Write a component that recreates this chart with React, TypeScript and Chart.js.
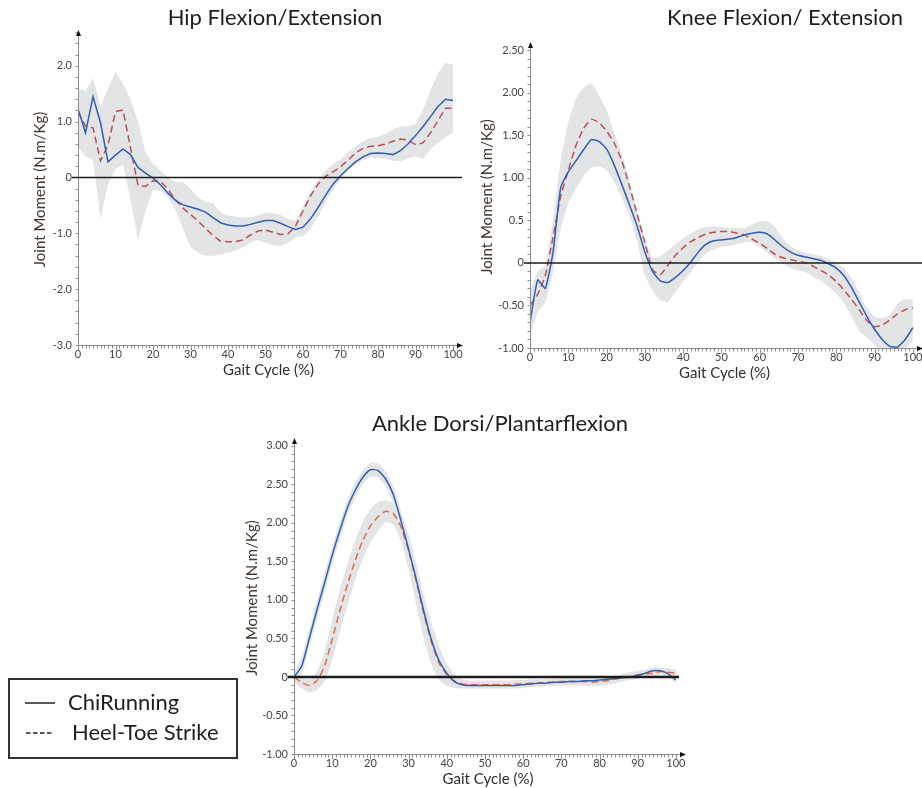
import React, { useEffect, useRef } from 'react';
import { Chart, registerables } from 'chart.js';

Chart.register(...registerables);

// ---------- data ----------
const gaitX = [0, 2, 4, 6, 8, 10, 12, 14, 16, 18, 20, 22, 24, 26, 28, 30, 32, 34, 36, 38, 40, 42, 44, 46, 48, 50, 52, 54, 56, 58, 60, 62, 64, 66, 68, 70, 72, 74, 76, 78, 80, 82, 84, 86, 88, 90, 92, 94, 96, 98, 100];
const xTicks = [0, 10, 20, 30, 40, 50, 60, 70, 80, 90, 100];
const legendLabels = ['ChiRunning', 'Heel-Toe Strike'];

const hipTitle = 'Hip Flexion/Extension';
const hipYTicks = [-3, -2, -1, 0, 1, 2];
const hipYLabels = ['-3.0', '-2.0', '-1.0', '0', '1.0', '2.0'];
const hipChi = [1.23, 0.80, 1.45, 0.98, 0.28, 0.40, 0.51, 0.41, 0.18, 0.08, -0.01, -0.13, -0.28, -0.41, -0.49, -0.53, -0.57, -0.62, -0.72, -0.81, -0.85, -0.87, -0.87, -0.84, -0.80, -0.77, -0.77, -0.82, -0.88, -0.93, -0.89, -0.74, -0.54, -0.32, -0.12, 0.03, 0.16, 0.28, 0.37, 0.43, 0.44, 0.43, 0.41, 0.48, 0.60, 0.75, 0.91, 1.09, 1.27, 1.40, 1.38];
const hipHts = [1.18, 0.92, 0.89, 0.30, 0.58, 1.18, 1.21, 0.53, -0.14, -0.16, -0.06, -0.07, -0.21, -0.40, -0.55, -0.66, -0.78, -0.91, -1.04, -1.14, -1.15, -1.15, -1.12, -1.03, -0.96, -0.94, -0.98, -1.02, -1.01, -0.87, -0.60, -0.33, -0.12, 0.02, 0.10, 0.19, 0.31, 0.44, 0.52, 0.56, 0.57, 0.60, 0.65, 0.69, 0.67, 0.59, 0.62, 0.80, 1.02, 1.24, 1.24];
const hipUpper = [1.60, 1.55, 1.78, 1.28, 1.60, 1.90, 1.68, 1.40, 1.00, 0.45, 0.25, 0.12, 0.00, -0.08, -0.08, -0.20, -0.35, -0.44, -0.46, -0.63, -0.68, -0.70, -0.71, -0.71, -0.68, -0.63, -0.64, -0.67, -0.75, -0.78, -0.52, -0.26, -0.04, 0.12, 0.24, 0.32, 0.45, 0.56, 0.65, 0.71, 0.73, 0.78, 0.86, 0.92, 0.92, 0.96, 1.22, 1.55, 1.87, 2.05, 2.02];
const hipLower = [0.56, 0.38, 0.32, -0.75, -0.12, 0.15, 0.24, -0.40, -1.12, -0.60, -0.22, -0.24, -0.35, -0.58, -0.92, -1.24, -1.35, -1.40, -1.40, -1.38, -1.35, -1.31, -1.25, -1.16, -1.12, -1.17, -1.21, -1.23, -1.17, -1.08, -1.05, -0.92, -0.70, -0.45, -0.22, -0.04, 0.12, 0.24, 0.32, 0.36, 0.35, 0.33, 0.30, 0.29, 0.34, 0.38, 0.33, 0.50, 0.62, 0.72, 0.80];

const kneeTitle = 'Knee Flexion/ Extension';
const kneeYTicks = [-1, -0.5, 0, 0.5, 1, 1.5, 2, 2.5];
const kneeYLabels = ['-1.00', '-0.50', '0', '0.5', '1.00', '1.50', '2.00', '2.50'];
const kneeChi = [-0.70, -0.20, -0.30, 0.12, 0.88, 1.07, 1.20, 1.33, 1.45, 1.43, 1.34, 1.15, 0.92, 0.68, 0.43, 0.13, -0.10, -0.21, -0.23, -0.17, -0.09, 0.01, 0.13, 0.22, 0.26, 0.27, 0.28, 0.30, 0.33, 0.35, 0.36, 0.34, 0.27, 0.19, 0.13, 0.09, 0.07, 0.05, 0.03, -0.01, -0.06, -0.15, -0.29, -0.46, -0.63, -0.78, -0.90, -0.98, -0.99, -0.90, -0.76];
const kneeHts = [-0.50, -0.37, -0.15, 0.30, 0.78, 1.09, 1.38, 1.58, 1.69, 1.65, 1.55, 1.41, 1.20, 0.90, 0.57, 0.24, -0.08, -0.14, -0.03, 0.09, 0.18, 0.25, 0.30, 0.34, 0.36, 0.37, 0.37, 0.35, 0.33, 0.28, 0.23, 0.17, 0.10, 0.06, 0.04, 0.02, 0.00, -0.04, -0.09, -0.14, -0.22, -0.32, -0.43, -0.55, -0.68, -0.75, -0.73, -0.67, -0.60, -0.55, -0.53];
const kneeUpper = [-0.35, -0.10, -0.02, 0.50, 1.20, 1.65, 1.93, 2.06, 2.11, 1.97, 1.80, 1.53, 1.28, 0.95, 0.62, 0.28, 0.06, 0.08, 0.15, 0.22, 0.29, 0.35, 0.40, 0.42, 0.43, 0.42, 0.41, 0.41, 0.41, 0.45, 0.49, 0.49, 0.42, 0.29, 0.20, 0.15, 0.12, 0.10, 0.08, 0.05, 0.00, -0.06, -0.18, -0.35, -0.53, -0.63, -0.65, -0.61, -0.48, -0.43, -0.43];
const kneeLower = [-0.85, -0.58, -0.46, -0.10, 0.40, 0.70, 0.88, 1.02, 1.12, 1.14, 1.09, 0.95, 0.77, 0.55, 0.25, -0.14, -0.33, -0.44, -0.46, -0.34, -0.22, -0.11, 0.01, 0.11, 0.16, 0.19, 0.20, 0.22, 0.24, 0.24, 0.19, 0.12, 0.05, -0.01, -0.06, -0.09, -0.11, -0.16, -0.21, -0.28, -0.36, -0.47, -0.63, -0.80, -0.88, -0.96, -1.08, -1.12, -1.10, -1.00, -0.92];

const ankleTitle = 'Ankle Dorsi/Plantarflexion';
const ankleYTicks = [-1, -0.5, 0, 0.5, 1, 1.5, 2, 2.5, 3];
const ankleYLabels = ['-1.00', '-0.50', '0', '0.50', '1.00', '1.50', '2.00', '2.50', '3.00'];
const ankleChi = [0.00, 0.14, 0.50, 0.87, 1.22, 1.58, 1.90, 2.20, 2.42, 2.59, 2.69, 2.68, 2.57, 2.37, 2.03, 1.66, 1.27, 0.85, 0.48, 0.21, 0.05, -0.06, -0.10, -0.11, -0.11, -0.11, -0.11, -0.11, -0.11, -0.11, -0.10, -0.09, -0.08, -0.08, -0.07, -0.07, -0.06, -0.06, -0.05, -0.05, -0.04, -0.03, -0.02, -0.01, 0.00, 0.02, 0.05, 0.08, 0.08, 0.04, -0.04];
const ankleHts = [0.00, -0.07, -0.11, -0.05, 0.14, 0.49, 0.86, 1.20, 1.51, 1.77, 1.96, 2.08, 2.15, 2.12, 1.95, 1.64, 1.24, 0.82, 0.45, 0.18, 0.03, -0.05, -0.09, -0.10, -0.10, -0.10, -0.10, -0.10, -0.10, -0.09, -0.09, -0.08, -0.08, -0.07, -0.07, -0.06, -0.06, -0.06, -0.06, -0.07, -0.06, -0.05, -0.03, -0.01, 0.01, 0.03, 0.04, 0.05, 0.07, 0.06, 0.05];
const ankleChiUpper = [0.06, 0.26, 0.62, 0.99, 1.34, 1.69, 2.01, 2.30, 2.52, 2.68, 2.78, 2.77, 2.67, 2.48, 2.16, 1.82, 1.43, 1.02, 0.65, 0.35, 0.15, 0.01, -0.05, -0.07, -0.07, -0.07, -0.07, -0.07, -0.07, -0.07, -0.06, -0.05, -0.05, -0.05, -0.04, -0.04, -0.03, -0.03, -0.02, -0.02, -0.01, 0.00, 0.01, 0.02, 0.04, 0.06, 0.09, 0.12, 0.12, 0.08, 0.00];
const ankleChiLower = [-0.06, 0.03, 0.38, 0.75, 1.10, 1.46, 1.79, 2.10, 2.32, 2.50, 2.60, 2.59, 2.47, 2.26, 1.90, 1.50, 1.10, 0.68, 0.31, 0.08, -0.05, -0.12, -0.14, -0.15, -0.15, -0.15, -0.15, -0.15, -0.15, -0.15, -0.14, -0.13, -0.12, -0.12, -0.11, -0.11, -0.10, -0.10, -0.09, -0.09, -0.08, -0.07, -0.06, -0.05, -0.04, -0.02, 0.01, 0.04, 0.04, 0.00, -0.08];
const ankleHtsUpper = [0.05, 0.01, -0.03, 0.07, 0.33, 0.74, 1.13, 1.47, 1.77, 2.01, 2.18, 2.27, 2.29, 2.26, 2.12, 1.85, 1.48, 1.06, 0.70, 0.40, 0.17, 0.04, -0.03, -0.05, -0.05, -0.05, -0.05, -0.05, -0.05, -0.04, -0.04, -0.03, -0.03, -0.02, -0.02, -0.01, -0.01, -0.01, -0.01, -0.02, -0.01, 0.00, 0.02, 0.04, 0.06, 0.08, 0.09, 0.10, 0.12, 0.11, 0.10];
const ankleHtsLower = [-0.06, -0.15, -0.20, -0.17, -0.06, 0.22, 0.59, 0.93, 1.25, 1.53, 1.74, 1.89, 2.01, 1.98, 1.76, 1.40, 0.94, 0.50, 0.16, -0.04, -0.11, -0.14, -0.15, -0.15, -0.15, -0.15, -0.15, -0.15, -0.15, -0.14, -0.14, -0.13, -0.13, -0.12, -0.12, -0.11, -0.11, -0.11, -0.11, -0.12, -0.11, -0.10, -0.08, -0.06, -0.04, -0.02, -0.01, 0.00, 0.02, 0.01, 0.00];

// ---------- styling ----------
const FONT = 'Lato, "Open Sans", sans-serif';
const BLUE = '#2f5fb3';
const RED = '#c0504d';
const ORANGE = '#ea6a43';
const BAND = '#e3e4e6';

const pts = (ys: number[]) => gaitX.map((x, i) => ({ x, y: ys[i] }));

const lineDs = (label: string, ys: number[], color: string, dashed: boolean, tension: number) => ({
  label,
  data: pts(ys),
  borderColor: color,
  borderWidth: 1.5,
  borderDash: dashed ? [7, 4] : [],
  pointRadius: 0,
  fill: false,
  tension,
});

const bandDs = (ys: number[], fillNext: boolean, tension: number) => ({
  label: '',
  data: pts(ys),
  borderWidth: 0,
  borderColor: 'rgba(0,0,0,0)',
  backgroundColor: BAND,
  pointRadius: 0,
  fill: fillNext ? '+1' : false,
  tension,
});

const decorPlugin = {
  id: 'decor',
  afterDraw(chart: any, _args: any, o: any) {
    const { ctx, chartArea: ca } = chart;
    const xs = chart.scales.x;
    const ys = chart.scales.y;
    const ax = Math.round(ca.left) + 0.5;
    const ay = Math.round(ca.bottom) + 0.5;
    ctx.save();
    ctx.strokeStyle = '#8e8e8e';
    ctx.lineWidth = 1;
    ctx.beginPath();
    ctx.moveTo(ax, ca.top);
    ctx.lineTo(ax, ay);
    ctx.lineTo(ca.right, ay);
    for (let i = 0; i <= 101; i++) {
      const px = Math.round(xs.getPixelForValue(i)) + 0.5;
      ctx.moveTo(px, ay);
      ctx.lineTo(px, ay + (i % 10 === 0 ? 5 : 3));
    }
    const n = Math.round((ys.max - ys.min) / o.yMinor);
    for (let i = 0; i <= n; i++) {
      const py = Math.round(ys.getPixelForValue(ys.min + i * o.yMinor)) + 0.5;
      ctx.moveTo(ax, py);
      ctx.lineTo(ax - 3, py);
    }
    ctx.stroke();

    const z = ys.getPixelForValue(0);
    ctx.strokeStyle = '#1c1c1c';
    ctx.lineWidth = o.zeroWidth;
    ctx.beginPath();
    ctx.moveTo(ca.left - 6, z);
    ctx.lineTo(ca.right + o.zeroExt, z);
    ctx.stroke();

    ctx.fillStyle = '#111';
    ctx.beginPath();
    ctx.moveTo(ax, ca.top - 4);
    ctx.lineTo(ax - 2.5, ca.top + 2);
    ctx.lineTo(ax + 2.5, ca.top + 2);
    ctx.closePath();
    ctx.fill();
    ctx.beginPath();
    ctx.moveTo(ca.right + 4, ay);
    ctx.lineTo(ca.right - 2, ay - 2.5);
    ctx.lineTo(ca.right - 2, ay + 2.5);
    ctx.closePath();
    ctx.fill();

    ctx.font = `22px ${FONT}`;
    ctx.fillStyle = '#1e1e1e';
    ctx.textAlign = 'center';
    ctx.textBaseline = 'middle';
    ctx.fillText(o.title, o.titleX, o.titleY);

    if (o.legend) {
      const L = o.legend;
      ctx.strokeStyle = '#333';
      ctx.lineWidth = 2;
      ctx.strokeRect(L.x, L.y, L.w, L.h);
      ctx.strokeStyle = '#222';
      ctx.lineWidth = 1.5;
      ctx.beginPath();
      ctx.moveTo(L.x + 16, L.y + 24);
      ctx.lineTo(L.x + 46, L.y + 24);
      ctx.stroke();
      ctx.setLineDash([4.5, 2.5]);
      ctx.beginPath();
      ctx.moveTo(L.x + 17, L.y + 54);
      ctx.lineTo(L.x + 45, L.y + 54);
      ctx.stroke();
      ctx.setLineDash([]);
      ctx.font = `22px ${FONT}`;
      ctx.fillStyle = '#1e1e1e';
      ctx.textAlign = 'left';
      ctx.textBaseline = 'middle';
      ctx.fillText(legendLabels[0], L.x + 59, L.y + 24);
      ctx.fillText(legendLabels[1], L.x + 63, L.y + 54);
    }
    ctx.restore();
  },
};

type Panel = {
  left: number; top: number; w: number; h: number;
  pad: { left: number; right: number; top: number; bottom: number };
  yWidth: number; xHeight: number; yTitlePad: number; xTitlePad: number;
  yMin: number; yMax: number; yTicks: number[]; yLabels: string[]; yMinor: number;
  datasets: any[]; decor: any;
};

const XMAX = 101.6;

const panels: Panel[] = [
  {
    left: 0, top: 0, w: 470, h: 385,
    pad: { left: 0, right: 11, top: 34, bottom: 0 },
    yWidth: 78, xHeight: 40, yTitlePad: 31, xTitlePad: 6,
    yMin: -3, yMax: 2.57, yTicks: hipYTicks, yLabels: hipYLabels, yMinor: 0.2,
    datasets: [
      lineDs(legendLabels[0], hipChi, BLUE, false, 0),
      lineDs(legendLabels[1], hipHts, RED, true, 0),
      bandDs(hipUpper, true, 0),
      bandDs(hipLower, false, 0),
    ],
    decor: { title: hipTitle, titleX: 275, titleY: 18, yMinor: 0.2, zeroWidth: 1.6, zeroExt: 3 },
  },
  {
    left: 460, top: 0, w: 462, h: 388,
    pad: { left: 0, right: 3, top: 46, bottom: 0 },
    yWidth: 70, xHeight: 40, yTitlePad: 18, xTitlePad: 6,
    yMin: -1, yMax: 2.55, yTicks: kneeYTicks, yLabels: kneeYLabels, yMinor: 0.1,
    datasets: [
      lineDs(legendLabels[0], kneeChi, BLUE, false, 0.15),
      lineDs(legendLabels[1], kneeHts, RED, true, 0.15),
      bandDs(kneeUpper, true, 0.15),
      bandDs(kneeLower, false, 0.15),
    ],
    decor: { title: kneeTitle, titleX: 325, titleY: 18, yMinor: 0.1, zeroWidth: 1.6, zeroExt: 3 },
  },
  {
    left: 0, top: 395, w: 700, h: 393,
    pad: { left: 0, right: 18, top: 47, bottom: 0 },
    yWidth: 294, xHeight: 34, yTitlePad: 243, xTitlePad: 0,
    yMin: -1, yMax: 3.05, yTicks: ankleYTicks, yLabels: ankleYLabels, yMinor: 0.1,
    datasets: [
      lineDs(legendLabels[0], ankleChi, BLUE, false, 0.2),
      lineDs(legendLabels[1], ankleHts, ORANGE, true, 0.2),
      bandDs(ankleChiUpper, true, 0.2),
      bandDs(ankleChiLower, false, 0.2),
      bandDs(ankleHtsUpper, true, 0.2),
      bandDs(ankleHtsLower, false, 0.2),
    ],
    decor: { title: ankleTitle, titleX: 500, titleY: 29, yMinor: 0.1, zeroWidth: 2.6, zeroExt: -3, legend: { x: 9, y: 284, w: 228, h: 79 } },
  },
];

function makeConfig(p: Panel): any {
  return {
    type: 'line',
    data: { datasets: p.datasets },
    plugins: [decorPlugin],
    options: {
      responsive: false,
      maintainAspectRatio: false,
      animation: false,
      devicePixelRatio: 1,
      layout: { padding: p.pad },
      plugins: {
        legend: { display: false },
        tooltip: { enabled: false },
        title: { display: false },
        decor: p.decor,
      },
      scales: {
        x: {
          type: 'linear',
          min: 0,
          max: XMAX,
          bounds: 'data',
          grid: { display: false, drawTicks: false },
          border: { display: false },
          ticks: {
            padding: 3,
            autoSkip: false,
            maxRotation: 0,
            color: '#444',
            font: { family: FONT, size: 11 },
            callback: (v: any) => String(v),
          },
          afterBuildTicks: (s: any) => { s.ticks = xTicks.map((v) => ({ value: v })); },
          afterFit: (s: any) => { s.height = p.xHeight; s.paddingLeft = 0; s.paddingRight = 0; },
          title: {
            display: true,
            text: 'Gait Cycle (%)',
            color: '#2e2e2e',
            font: { family: FONT, size: 15 },
            padding: { top: 0, bottom: p.xTitlePad },
          },
        },
        y: {
          type: 'linear',
          min: p.yMin,
          max: p.yMax,
          bounds: 'data',
          grid: { display: false, drawTicks: false },
          border: { display: false },
          ticks: {
            padding: 6,
            autoSkip: false,
            color: '#444',
            font: { family: FONT, size: 11 },
            callback: (_v: any, i: number) => p.yLabels[i],
          },
          afterBuildTicks: (s: any) => { s.ticks = p.yTicks.map((v) => ({ value: v })); },
          afterFit: (s: any) => { s.width = p.yWidth; s.paddingTop = 0; s.paddingBottom = 0; },
          title: {
            display: true,
            text: 'Joint Moment (N.m/Kg)',
            color: '#40372f',
            font: { family: FONT, size: 15 },
            padding: { top: p.yTitlePad, bottom: 0 },
          },
        },
      },
    },
  };
}

function PanelChart({ p }: { p: Panel }) {
  const ref = useRef<HTMLCanvasElement>(null);
  useEffect(() => {
    const chart = new Chart(ref.current as HTMLCanvasElement, makeConfig(p));
    return () => chart.destroy();
  }, [p]);
  return (
    <canvas
      ref={ref}
      width={p.w}
      height={p.h}
      style={{ position: 'absolute', left: p.left, top: p.top, width: p.w, height: p.h }}
    />
  );
}

export default function App() {
  return (
    <div style={{ position: 'absolute', left: 0, top: 0, width: 922, height: 788, background: '#fff', overflow: 'hidden' }}>
      {panels.map((p, i) => (
        <PanelChart key={i} p={p} />
      ))}
    </div>
  );
}
